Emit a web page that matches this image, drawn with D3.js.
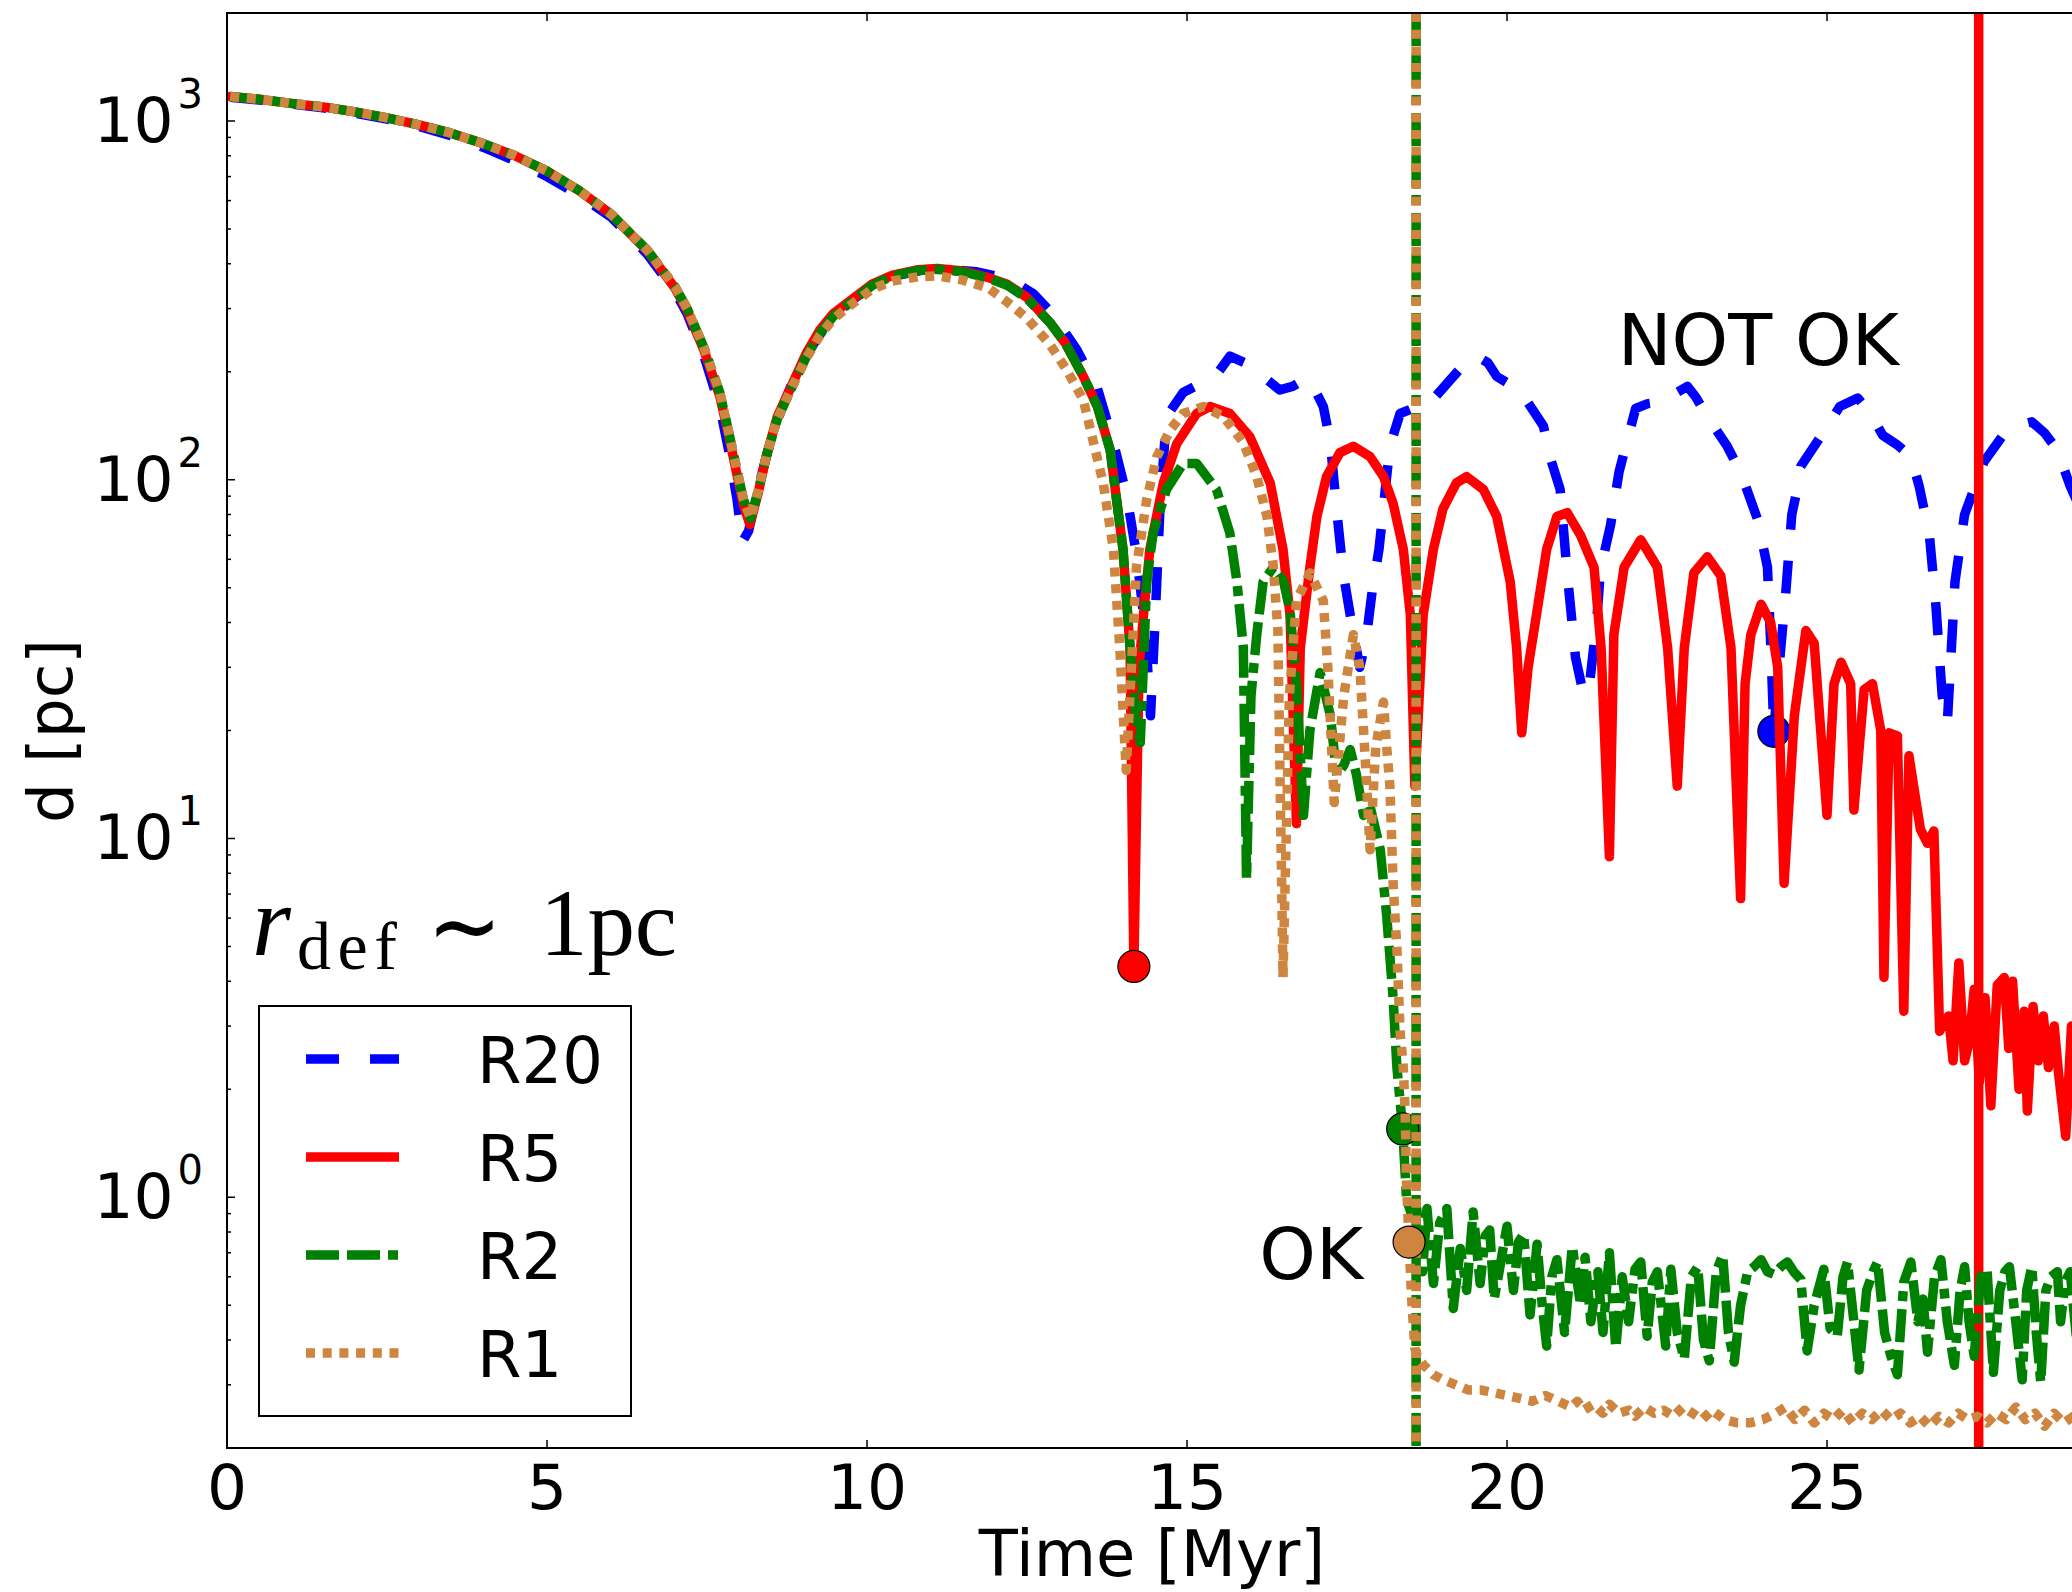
<!DOCTYPE html>
<html>
<head>
<meta charset="utf-8">
<script src="https://cdn.jsdelivr.net/npm/d3@7"></script>
<style>
    body { margin: 0; background: #ffffff; }
</style>
</head>
<body>
<svg id="grafico" width="2072" height="1592"></svg>
<script>
// Distance d [pc] against time [Myr], one array of [t, d] pairs per run
const r20 = [
    [0.05,1165],[0.5,1145],[1.0,1115],[1.5,1088],[2.0,1052],[2.5,1012],[3.0,966],[3.5,910],[4.0,845],[4.5,775],
    [5.0,700],[5.5,622],[6.0,540],[6.57,425],[7.0,335],[7.19,290],[7.45,222],[7.7,160],[7.85,118],[7.97,88],
    [8.05,67],[8.15,72],[8.3,95],[8.45,120],[8.65,155],[8.85,190],[9.1,230],[9.4,275],[9.7,310],[10.1,350],
    [10.5,372],[10.9,385],[11.3,386],[11.7,380],[12.0,370],[12.3,356],[12.6,330],[12.9,290],[13.28,230],[13.6,180],
    [13.85,127],[14.06,90],[14.21,62],[14.35,38],[14.43,22],[14.5,40],[14.58,85],[14.68,150],[14.94,175],[15.2,185],
    [15.46,196],[15.67,221],[15.9,212],[16.09,203],[16.25,190],[16.45,178],[16.65,182],[16.87,192],[17.0,178],[17.13,160],
    [17.24,127],[17.34,82],[17.44,55],[17.55,42],[17.7,30],[17.8,36],[17.9,50],[18.0,64],[18.17,124],[18.33,153],
    [18.6,160],[18.8,164],[19.16,194],[19.35,212],[19.53,221],[19.7,212],[19.84,194],[20.1,182],[20.26,171],[20.57,141],
    [20.67,116],[20.83,94],[20.94,55],[21.07,32],[21.2,25],[21.3,28],[21.4,40],[21.46,56],[21.62,75],[21.75,105],
    [21.88,129],[22.01,158],[22.2,163],[22.43,165],[22.65,175],[22.82,182],[22.95,170],[23.1,153],[23.44,124],[23.65,105],
    [23.91,78],[24.07,57],[24.12,35],[24.17,20],[24.25,30],[24.35,47],[24.45,80],[24.54,95],[24.59,109],[24.9,132],
    [25.2,160],[25.48,169],[25.68,153],[25.87,133],[26.1,125],[26.31,116],[26.44,96],[26.6,70],[26.7,45],[26.8,25],
    [26.88,21],[27.0,52],[27.15,80],[27.45,112],[27.75,133],[28.0,142],[28.2,145],[28.4,135],[28.6,121],[28.8,96],
    [29.0,80]
];

const r5 = [
    [0.05,1170],[0.5,1150],[1.0,1120],[1.5,1095],[2.0,1060],[2.5,1020],[3.0,975],[3.5,925],[4.0,865],[4.5,800],
    [5.0,725],[5.5,640],[6.0,550],[6.57,434],[7.0,342],[7.19,296],[7.45,230],[7.7,171],[7.85,130],[7.97,103],
    [8.07,85],[8.17,75],[8.3,92],[8.43,117],[8.6,150],[8.84,186],[9.05,225],[9.26,261],[9.47,290],[9.67,309],
    [10.08,351],[10.4,372],[10.8,385],[11.1,388],[11.5,382],[11.9,366],[12.2,350],[12.5,322],[12.86,274],[13.1,240],
    [13.38,194],[13.6,160],[13.8,121],[14.0,64],[14.11,34],[14.17,4.4],[14.25,30],[14.32,42],[14.42,64],[14.63,98],
    [14.84,126],[15.15,153],[15.36,160],[15.67,153],[15.98,132],[16.3,98],[16.5,64],[16.61,42],[16.71,11],[16.77,34],
    [16.92,57],[17.03,79],[17.18,102],[17.39,119],[17.6,124],[17.86,116],[18.07,102],[18.22,86],[18.38,64],[18.49,42],
    [18.56,14],[18.69,42],[18.85,64],[19.0,83],[19.21,98],[19.37,102],[19.63,94],[19.84,79],[20.05,52],[20.15,34],
    [20.23,19.7],[20.33,30],[20.46,42],[20.62,64],[20.78,79],[20.94,81],[21.15,70],[21.36,57],[21.47,34],[21.6,8.9],
    [21.67,37],[21.83,57],[22.09,68],[22.35,57],[22.51,34],[22.66,14],[22.77,34],[22.92,55],[23.13,61],[23.34,54],
    [23.5,34],[23.65,6.8],[23.72,27],[23.81,37],[23.97,45],[24.12,40],[24.23,30],[24.33,7.5],[24.49,22],[24.67,38],
    [24.8,35],[25.0,11.6],[25.11,27],[25.22,31],[25.37,27],[25.42,12],[25.58,26],[25.71,27],[25.84,20],[25.89,4.1],
    [25.97,19.7],[26.1,19.3],[26.2,3.3],[26.28,17],[26.46,10.6],[26.57,9.7],[26.67,10.5],[26.76,2.9],[26.83,3.1],[26.9,3.2],
    [26.97,2.4],[27.06,4.5],[27.15,2.4],[27.22,2.7],[27.3,3.8],[27.38,2.1],[27.47,3.6],[27.56,1.8],[27.66,3.9],[27.77,4.1],
    [27.84,2.6],[27.9,4.0],[28.0,2.0],[28.08,3.3],[28.13,1.74],[28.22,3.4],[28.3,2.4],[28.38,3.2],[28.46,2.3],[28.55,3.0],
    [28.62,2.2],[28.73,1.48],[28.82,3.0],[28.9,1.9],[29.0,2.6]
];

const r2 = [
    [0.05,1170],[0.5,1150],[1.0,1120],[1.5,1095],[2.0,1060],[2.5,1020],[3.0,975],[3.5,925],[4.0,865],[4.5,800],
    [5.0,725],[5.5,640],[6.0,550],[6.57,436],[7.0,345],[7.19,300],[7.45,234],[7.7,175],[7.85,133],[7.97,106],
    [8.07,88],[8.18,78],[8.3,93],[8.43,117],[8.6,148],[8.84,183],[9.05,220],[9.26,255],[9.47,285],[9.67,305],
    [10.08,348],[10.4,370],[10.8,383],[11.1,386],[11.5,380],[11.9,364],[12.2,348],[12.5,320],[12.86,274],[13.1,240],
    [13.38,194],[13.6,160],[13.8,121],[14.0,64],[14.11,34],[14.2,22],[14.27,18.5],[14.37,52],[14.47,71],[14.68,94],
    [14.94,111],[15.15,111],[15.46,94],[15.67,71],[15.78,52],[15.88,34],[15.93,7.7],[16.0,25],[16.09,37],[16.19,52],
    [16.35,57],[16.51,52],[16.61,43],[16.71,27],[16.82,11.6],[16.92,20],[17.08,29],[17.24,22],[17.34,15],[17.45,16],
    [17.55,17.7],[17.65,15],[17.76,11.6],[17.86,12.3],[18.02,9.3],[18.12,6.1],[18.22,3.6],[18.28,2.3],[18.37,1.55],[18.43,0.99],
    [18.52,0.88],[18.59,0.93],[18.68,0.62],[18.75,0.93],[18.85,0.575],[18.95,0.85],[19.06,0.93],[19.16,0.49],[19.27,0.72],[19.37,0.55],
    [19.47,0.91],[19.58,0.575],[19.66,0.78],[19.73,0.81],[19.8,0.52],[19.89,0.64],[20.0,0.83],[20.1,0.55],[20.18,0.75],[20.26,0.79],
    [20.36,0.47],[20.47,0.74],[20.55,0.5],[20.62,0.385],[20.7,0.6],[20.78,0.67],[20.9,0.42],[21.02,0.73],[21.15,0.5],[21.22,0.68],
    [21.31,0.45],[21.42,0.62],[21.5,0.42],[21.6,0.7],[21.7,0.38],[21.8,0.6],[21.9,0.45],[22.0,0.63],[22.09,0.66],[22.19,0.41],
    [22.27,0.58],[22.35,0.62],[22.48,0.385],[22.56,0.63],[22.66,0.42],[22.77,0.354],[22.88,0.6],[22.98,0.64],[23.07,0.4],[23.16,0.35],
    [23.27,0.62],[23.37,0.69],[23.46,0.42],[23.55,0.347],[23.65,0.5],[23.76,0.62],[23.86,0.64],[23.97,0.67],[24.07,0.62],[24.17,0.61],
    [24.28,0.64],[24.38,0.66],[24.48,0.62],[24.59,0.59],[24.69,0.373],[24.8,0.5],[24.95,0.63],[25.05,0.43],[25.16,0.41],[25.25,0.6],
    [25.32,0.66],[25.42,0.45],[25.5,0.33],[25.62,0.55],[25.72,0.62],[25.79,0.66],[25.9,0.42],[26.0,0.36],[26.1,0.32],[26.2,0.58],
    [26.31,0.66],[26.42,0.45],[26.5,0.52],[26.57,0.37],[26.68,0.6],[26.78,0.67],[26.88,0.45],[26.99,0.34],[27.08,0.55],[27.15,0.64],
    [27.22,0.45],[27.3,0.36],[27.4,0.6],[27.5,0.63],[27.6,0.325],[27.7,0.55],[27.78,0.62],[27.85,0.64],[27.95,0.45],[28.05,0.31],
    [28.12,0.55],[28.2,0.64],[28.27,0.42],[28.34,0.305],[28.42,0.55],[28.5,0.6],[28.6,0.62],[28.65,0.45],[28.72,0.58],[28.8,0.62],
    [28.9,0.4],[29.0,0.6]
];

const r1 = [
    [0.05,1170],[0.5,1150],[1.0,1120],[1.5,1095],[2.0,1060],[2.5,1020],[3.0,975],[3.5,925],[4.0,865],[4.5,800],
    [5.0,725],[5.5,640],[6.0,550],[6.57,436],[7.0,345],[7.19,300],[7.45,234],[7.7,175],[7.85,133],[7.97,106],
    [8.07,88],[8.18,78],[8.3,93],[8.43,117],[8.6,148],[8.84,183],[9.05,218],[9.26,252],[9.47,280],[9.67,300],
    [10.08,340],[10.4,358],[10.8,368],[11.1,370],[11.5,360],[11.9,342],[12.2,312],[12.5,282],[12.86,238],[13.1,205],
    [13.38,167],[13.69,98],[13.85,64],[13.95,34],[14.05,15.5],[14.15,35],[14.21,57],[14.37,88],[14.53,116],[14.74,138],
    [14.94,153],[15.26,160],[15.57,150],[15.88,127],[16.09,102],[16.25,79],[16.35,57],[16.42,38],[16.5,4.1],[16.6,25],
    [16.71,46],[16.92,55],[17.13,46],[17.2,30],[17.3,12.6],[17.45,25],[17.6,37],[17.7,30],[17.8,15],[17.86,9.3],
    [17.95,18],[18.07,24],[18.12,18],[18.17,14],[18.22,7.5],[18.28,4.9],[18.33,2.9],[18.38,2.3],[18.41,1.7],[18.43,1.1],
    [18.47,0.75],[18.51,0.52],[18.56,0.38],[18.6,0.36],[18.7,0.34],[18.85,0.32],[19.0,0.31],[19.2,0.3],[19.4,0.29],[19.6,0.29],
    [19.8,0.285],[20.0,0.28],[20.2,0.275],[20.4,0.27],[20.6,0.28],[20.8,0.27],[21.0,0.26],[21.1,0.27],[21.2,0.255],[21.35,0.265],
    [21.5,0.25],[21.6,0.265],[21.75,0.25],[21.9,0.255],[22.0,0.245],[22.15,0.26],[22.3,0.25],[22.45,0.255],[22.6,0.245],[22.75,0.26],
    [22.9,0.25],[23.05,0.24],[23.2,0.255],[23.4,0.24],[23.6,0.235],[23.8,0.235],[24.0,0.24],[24.2,0.25],[24.35,0.26],[24.5,0.24],
    [24.65,0.255],[24.8,0.235],[24.95,0.25],[25.1,0.24],[25.25,0.255],[25.4,0.235],[25.55,0.25],[25.7,0.24],[25.85,0.255],[26.0,0.24],
    [26.15,0.25],[26.3,0.235],[26.45,0.245],[26.6,0.23],[26.75,0.245],[26.9,0.235],[27.05,0.25],[27.2,0.24],[27.35,0.245],[27.5,0.235],
    [27.65,0.25],[27.8,0.24],[27.95,0.26],[28.1,0.24],[28.25,0.25],[28.4,0.23],[28.55,0.25],[28.7,0.235],[28.85,0.245],[29.0,0.24]
];

// Markers at the end of the inspiral of each run [t, d]
const markerR20 = [24.17, 19.9];
const markerR5 = [14.17, 4.4];
const markerR2 = [18.37, 1.55];
const markerR1 = [18.47, 0.75];

// Vertical lines [t]
const vlineR5 = 27.37;
const vlineR2 = 18.58;
const vlineR1 = 18.58;

const xTicks = [0, 5, 10, 15, 20, 25, 30];
const xTickLabels = [0, 5, 10, 15, 20, 25];
const yTicks = [1, 10, 100, 1000];
const yTickExpoentes = ["0", "1", "2", "3"];
const legendLabels = ["R20", "R5", "R2", "R1"];

// Annotations in data coordinates [text, t, d]
const textNotOk = ["NOT OK", 21.73, 209];
const textOk = ["OK", 16.13, 0.59];

const cons = {
    LEFT: 227, RIGHT: 2147, TOP: 13, BOTTOM: 1448,
    LARGURA_LINHA: 9.5,
    FONTE_TEXTO: "'DejaVu Sans', sans-serif",
    FONTE_SERIF: "'Liberation Serif', 'DejaVu Serif', serif"
};

const svg = d3.select("#grafico");

const x = d3.scaleLinear().domain([0, 30]).range([cons.LEFT, cons.RIGHT]);
const y = d3.scaleLog().domain([0.2, 2000]).range([cons.BOTTOM, cons.TOP]);

svg.append("defs").append("clipPath")
    .attr("id", "areaPlot")
    .append("rect")
    .attr("x", cons.LEFT)
    .attr("y", cons.TOP)
    .attr("width", cons.RIGHT - cons.LEFT)
    .attr("height", cons.BOTTOM - cons.TOP);

const plot = svg.append("g").attr("clip-path", "url(#areaPlot)");

const linha = d3.line()
    .x(d => x(d[0]))
    .y(d => y(d[1]));

const series = [
    { nome: "R20", dados: r20, cor: "#0000ff", dash: "33,31", marker: markerR20, vline: null },
    { nome: "R5", dados: r5, cor: "#ff0000", dash: null, marker: markerR5, vline: vlineR5 },
    { nome: "R2", dados: r2, cor: "#008000", dash: "33,8,33,8,10,8", marker: markerR2, vline: vlineR2 },
    { nome: "R1", dados: r1, cor: "#cd853f", dash: "9,7.7", marker: markerR1, vline: vlineR1 }
];

series.forEach(function(s) {
    plot.append("path")
        .datum(s.dados)
        .attr("d", linha)
        .attr("fill", "none")
        .attr("stroke", s.cor)
        .attr("stroke-width", cons.LARGURA_LINHA)
        .attr("stroke-linejoin", "round")
        .attr("stroke-linecap", s.dash ? "butt" : "round")
        .attr("stroke-dasharray", s.dash);

    if(s.vline !== null) {
        plot.append("line")
            .attr("x1", x(s.vline))
            .attr("x2", x(s.vline))
            .attr("y1", cons.TOP)
            .attr("y2", cons.BOTTOM)
            .attr("stroke", s.cor)
            .attr("stroke-width", cons.LARGURA_LINHA)
            .attr("stroke-dasharray", s.dash);
    }

    plot.append("circle")
        .attr("cx", x(s.marker[0]))
        .attr("cy", y(s.marker[1]))
        .attr("r", 16)
        .attr("fill", s.cor)
        .attr("stroke", "#000000")
        .attr("stroke-width", 1.2);
});

// Annotations
[textNotOk, textOk].forEach(function(t) {
    svg.append("text")
        .attr("x", x(t[1]))
        .attr("y", y(t[2]))
        .attr("font-family", cons.FONTE_TEXTO)
        .attr("font-size", 72)
        .attr("fill", "#000000")
        .text(t[0]);
});

// Ticks: major and minor, pointing into the plot
const yMinor = y.ticks().filter(v => yTicks.indexOf(v) < 0);
const ticks = svg.append("g")
    .attr("stroke", "#000000")
    .attr("stroke-width", 1.5);

ticks.selectAll(".xb").data(xTicks).enter().append("line")
    .attr("x1", d => x(d)).attr("x2", d => x(d))
    .attr("y1", cons.BOTTOM).attr("y2", cons.BOTTOM - 8);
ticks.selectAll(".xt").data(xTicks).enter().append("line")
    .attr("x1", d => x(d)).attr("x2", d => x(d))
    .attr("y1", cons.TOP).attr("y2", cons.TOP + 8);
ticks.selectAll(".ym").data(yTicks).enter().append("line")
    .attr("x1", cons.LEFT).attr("x2", cons.LEFT + 8)
    .attr("y1", d => y(d)).attr("y2", d => y(d));
ticks.selectAll(".yn").data(yMinor).enter().append("line")
    .attr("x1", cons.LEFT).attr("x2", cons.LEFT + 4)
    .attr("y1", d => y(d)).attr("y2", d => y(d));

// Frame
svg.append("rect")
    .attr("x", cons.LEFT)
    .attr("y", cons.TOP)
    .attr("width", cons.RIGHT - cons.LEFT)
    .attr("height", cons.BOTTOM - cons.TOP)
    .attr("fill", "none")
    .attr("stroke", "#000000")
    .attr("stroke-width", 2);

// Tick labels
svg.selectAll(".xlabel").data(xTickLabels).enter().append("text")
    .attr("x", d => x(d))
    .attr("y", cons.BOTTOM + 61)
    .attr("text-anchor", "middle")
    .attr("font-family", cons.FONTE_TEXTO)
    .attr("font-size", 63)
    .text(d => d);

const yLabels = svg.selectAll(".ylabel").data(yTicks).enter().append("text")
    .attr("x", cons.LEFT - 24)
    .attr("y", d => y(d) + 21)
    .attr("text-anchor", "end")
    .attr("font-family", cons.FONTE_TEXTO)
    .attr("font-size", 63);
yLabels.append("tspan").text("10");
yLabels.append("tspan")
    .attr("dx", 4)
    .attr("dy", -34)
    .attr("font-size", 40)
    .text((d, i) => yTickExpoentes[i]);

// Axis titles
svg.append("text")
    .attr("x", 1152)
    .attr("y", 1576)
    .attr("text-anchor", "middle")
    .attr("font-family", cons.FONTE_TEXTO)
    .attr("font-size", 64)
    .text("Time [Myr]");

svg.append("text")
    .attr("transform", "translate(72,731) rotate(-90)")
    .attr("text-anchor", "middle")
    .attr("font-family", cons.FONTE_TEXTO)
    .attr("font-size", 63)
    .text("d [pc]");

// r_def ~ 1pc label
const rdef = svg.append("g").attr("fill", "#000000");
rdef.append("text")
    .attr("x", 252).attr("y", 955)
    .attr("font-family", cons.FONTE_SERIF)
    .attr("font-style", "italic")
    .attr("font-size", 100)
    .text("r");
rdef.append("text")
    .attr("x", 297).attr("y", 969)
    .attr("font-family", cons.FONTE_SERIF)
    .attr("font-size", 68)
    .attr("textLength", 100)
    .text("def");
rdef.append("text")
    .attr("x", 427).attr("y", 960)
    .attr("font-family", "'DejaVu Sans', sans-serif")
    .attr("font-size", 100)
    .attr("textLength", 75)
    .attr("lengthAdjust", "spacingAndGlyphs")
    .text("\u223C");
rdef.append("text")
    .attr("x", 540).attr("y", 955)
    .attr("font-family", cons.FONTE_SERIF)
    .attr("font-size", 95)
    .attr("textLength", 137)
    .text("1pc");

// Legend
const legenda = svg.append("g");
legenda.append("rect")
    .attr("x", 259).attr("y", 1006)
    .attr("width", 372).attr("height", 410)
    .attr("fill", "#ffffff")
    .attr("stroke", "#000000")
    .attr("stroke-width", 2);

legendLabels.forEach(function(nome, i) {
    const s = series.find(d => d.nome === nome);
    const yLinha = 1059 + i * 98;
    legenda.append("line")
        .attr("x1", 306).attr("x2", 399)
        .attr("y1", yLinha).attr("y2", yLinha)
        .attr("stroke", s.cor)
        .attr("stroke-width", cons.LARGURA_LINHA)
        .attr("stroke-dasharray", s.dash);
    legenda.append("text")
        .attr("x", 477)
        .attr("y", yLinha + 24)
        .attr("font-family", cons.FONTE_TEXTO)
        .attr("font-size", 64)
        .text(nome);
});
</script>
</body>
</html>
